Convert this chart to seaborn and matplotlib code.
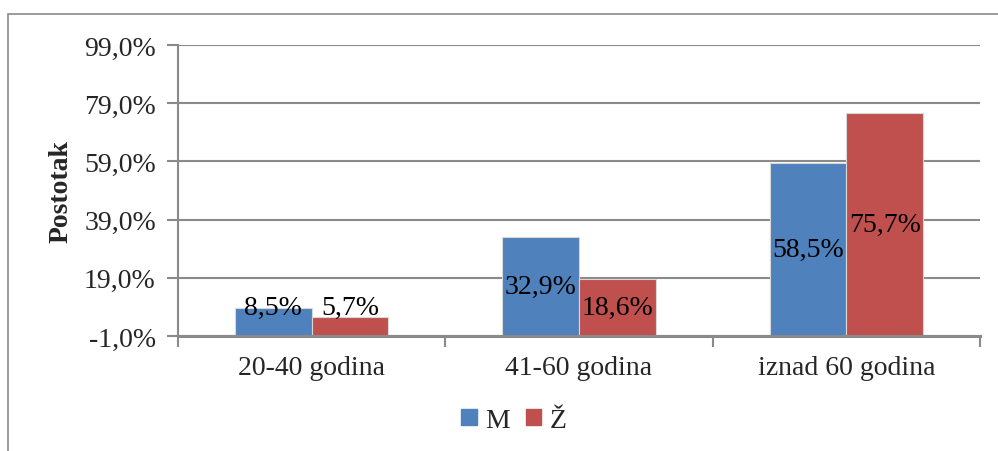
import seaborn as sns
import matplotlib.pyplot as plt
import numpy as np
import pandas as pd
from matplotlib.patches import Rectangle
from matplotlib.ticker import FuncFormatter, FixedLocator

# data
groups = ["20-40 godina", "41-60 godina", "iznad 60 godina"]
series = ["M", "Ž"]
m_vals = [8.5, 32.9, 58.5]
z_vals = [5.7, 18.6, 75.7]
colors = ["#4F81BD", "#C0504D"]

df = pd.DataFrame({
    "grupa": groups * 2,
    "spol": ["M"] * 3 + ["Ž"] * 3,
    "postotak": m_vals + z_vals,
})

sns.set_style("white")
plt.rcParams['font.family'] = ['Liberation Serif', 'DejaVu Serif']
fs = 20

fig = plt.figure(figsize=(9.98, 4.52), dpi=100)
ax = fig.add_axes([0.1784, 0.2544, 0.8036, 0.6438])

# bars grow up from the axis crossing at -1 %
base = -1.0
df["visina"] = df["postotak"] - base
sns.barplot(data=df, x="grupa", y="visina", hue="spol", hue_order=series,
            palette=colors, width=0.574, bottom=base, ax=ax,
            edgecolor="#d8d8d8", linewidth=0.8, saturation=1, legend=False)

ax.set_xlim(-0.5, 2.5)
ax.set_ylim(-1, 99)
ax.yaxis.set_major_locator(FixedLocator(np.arange(-1, 100, 20)))
ax.yaxis.set_major_formatter(FuncFormatter(lambda v, p: f"{v:.1f}%".replace(".", ",")))
ax.grid(axis="y", color="#8a8a8a", linewidth=1.5)
ax.set_axisbelow(True)

for s in ["top", "right"]:
    ax.spines[s].set_visible(False)
ax.spines["left"].set_color("#8a8a8a")
ax.spines["left"].set_linewidth(1.5)
ax.spines["bottom"].set_color("#8a8a8a")
ax.spines["bottom"].set_linewidth(2.2)

ax.tick_params(axis="y", which="major", direction="out", length=8, width=1.5,
               color="#8a8a8a", labelsize=fs, pad=8, left=True)
ax.tick_params(axis="x", which="major", length=0, labelsize=fs, pad=14)
ax.set_xticks([-0.5, 0.5, 1.5, 2.5], minor=True)
ax.tick_params(axis="x", which="minor", direction="out", length=8, width=1.5,
               color="#8a8a8a", bottom=True)

ax.set_xlabel("")
ax.set_ylabel("Postotak", fontsize=20, fontweight="bold")
ax.yaxis.set_label_coords(-0.130, 0.5)

# value labels
for cont, vals in zip(ax.containers, [m_vals, z_vals]):
    for bar, v in zip(cont, vals):
        cy = max((v + base) / 2, 9.0)
        ax.text(bar.get_x() + bar.get_width() / 2, cy,
                f"{v:.1f}%".replace(".", ","), ha="center", va="center",
                fontsize=fs, color="black")

handles = [Rectangle((0, 0), 1, 1, color=c) for c in colors]
ax.legend(handles, series, loc="center", bbox_to_anchor=(0.515, 0.068),
          bbox_transform=fig.transFigure, ncol=2, frameon=False,
          fontsize=fs, handlelength=0.55, handleheight=0.55,
          handletextpad=0.3, columnspacing=0.6, borderpad=0.2)

# outer chart frame
fig.patches.append(Rectangle((0.008, -0.2), 1.5, 1.167, transform=fig.transFigure,
                             fill=False, edgecolor="#8a8a8a", linewidth=1.2))

fig.savefig("out.png", dpi=100)
